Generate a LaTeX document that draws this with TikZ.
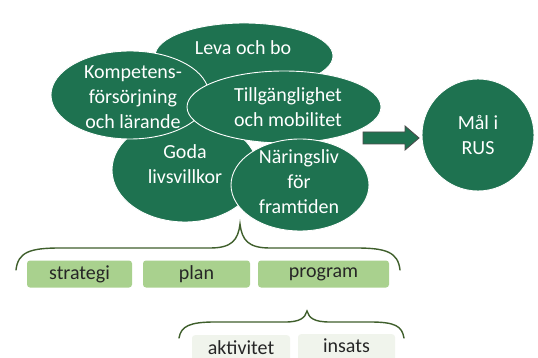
\documentclass[tikz,border=0pt]{standalone}
\usepackage{fontspec}
\setmainfont{Carlito}
\usetikzlibrary{shapes.geometric}
\definecolor{dg}{HTML}{1E7250}
\definecolor{lg}{HTML}{A9D18E}
\definecolor{pg}{HTML}{F0F4EC}
\definecolor{br}{HTML}{3F5F2C}
\tikzset{
  blob/.style={ellipse, fill=dg, draw=white, line width=0.9pt, inner sep=0pt},
  txt/.style={text=white, font=\fontsize{20}{25}\selectfont, align=center, inner sep=0pt},
  box/.style={rounded corners=3pt, fill=lg, inner sep=0pt, font=\fontsize{20}{24}\selectfont, text=black!85},
  pbox/.style={rounded corners=3pt, fill=pg, inner sep=0pt, font=\fontsize{20}{24}\selectfont, text=black!85},
  brace/.style={draw=br, line width=1.4pt, line cap=round}
}
\begin{document}
\begin{tikzpicture}[x=1pt,y=-1pt]
\useasboundingbox (0,0) rectangle (538,358);
\clip (0,0) rectangle (538,358);
\fill[white] (0,0) rectangle (538,358);
% ellipses
\node[blob, minimum width=178pt, minimum height=66pt] (leva) at (244,56) {};
\node[blob, minimum width=146pt, minimum height=104pt] (goda) at (185,170) {};
\node[blob, minimum width=158pt, minimum height=88pt] (komp) at (130,95) {};
\node[blob, minimum width=194pt, minimum height=72pt] (till) at (284,107) {};
\node[blob, minimum width=138pt, minimum height=92pt] (nar) at (300,185) {};
\node[blob, circle, minimum size=112pt] (mal) at (478,135) {};
% texts
\node[txt] (tleva) at (243,48) {Leva och bo};
\node[txt] (tkomp) at (133,97) {Kompetens-\\försörjning\\och lärande};
\node[txt] (ttill) at (288,107) {Tillgänglighet\\och mobilitet};
\node[txt] (tgoda) at (185,164) {Goda\\livsvillkor};
\node[txt] (tnar) at (299,182) {Näringsliv\\för\\framtiden};
\node[txt] (tmal) at (478,135) {Mål i\\RUS};
% block arrow
\draw[fill=dg, draw=black!70, line width=0.9pt, line join=miter]
  (363,132) -- (405,132) -- (405,126) -- (419,138) -- (405,150) -- (405,144) -- (363,144) -- cycle;
% upper brace
\coordinate (b1l) at (16,270);
\coordinate (b1t) at (240,224);
\coordinate (b1r) at (400,270);
\draw[brace] (b1l) .. controls (18,252) and (30,248) .. (60,248) -- (210,248)
  .. controls (232,248) and (238,240) .. (b1t)
  .. controls (242,240) and (248,248) .. (270,248) -- (356,248)
  .. controls (386,248) and (398,252) .. (b1r);
% boxes
\node[box, minimum width=105pt, minimum height=27pt] (strat) at (79.5,274) {strategi};
\node[box, minimum width=107pt, minimum height=27pt] (plan) at (196.5,274) {plan};
\node[box, minimum width=131pt, minimum height=27pt] (prog) at (323.5,274) {program};
% lower brace
\coordinate (b2l) at (179,338);
\coordinate (b2t) at (307,311);
\coordinate (b2r) at (404,338);
\draw[brace] (b2l) .. controls (181,326) and (190,322) .. (215,322) -- (285,322)
  .. controls (300,322) and (305,318) .. (b2t)
  .. controls (309,318) and (314,322) .. (330,322) -- (370,322)
  .. controls (395,322) and (402,326) .. (b2r);
\node[pbox, minimum width=98pt, minimum height=40pt, anchor=north] (akt) at (241,335) {};
\node[pbox, minimum width=97pt, minimum height=40pt, anchor=north] (ins) at (346.5,334) {};
\node[inner sep=0pt, font=\fontsize{20}{24}\selectfont, text=black!85] (takt) at (241,347.5) {aktivitet};
\node[inner sep=0pt, font=\fontsize{20}{24}\selectfont, text=black!85] (tins) at (346.5,345.5) {insats};
\end{tikzpicture}
\end{document}
